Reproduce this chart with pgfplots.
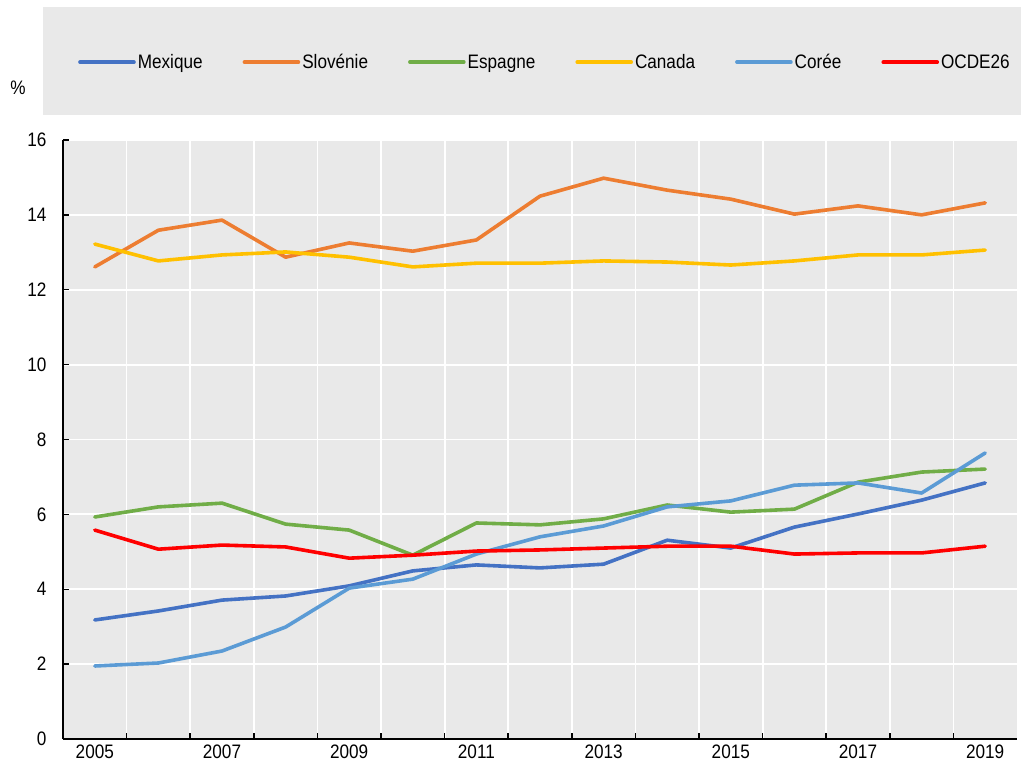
\documentclass[border=0pt]{standalone}
\usepackage{fontspec}
\setmainfont{Liberation Sans}[FakeStretch=0.88]
\usepackage{pgfplots}
\pgfplotsset{compat=1.18}
\definecolor{cMex}{HTML}{4472C4}
\definecolor{cSlo}{HTML}{ED7D31}
\definecolor{cEsp}{HTML}{70AD47}
\definecolor{cCan}{HTML}{FFC000}
\definecolor{cCor}{HTML}{5B9BD5}
\definecolor{cOCDE}{HTML}{FF0000}
\definecolor{bgc}{HTML}{E9E9E9}
\newcommand{\chartfont}{\fontsize{19.5}{23}\selectfont}
\begin{document}
\begin{tikzpicture}[x=1pt,y=1pt]
\path[use as bounding box] (-63,-25) rectangle (958,739);
\fill[bgc] (-20,624) rectangle (958,732);
\node[font=\chartfont] at (-45,651) {\%};
\begin{axis}[
  at={(0,0)}, anchor=south west,
  scale only axis, width=954pt, height=599pt,
  xmin=-0.5, xmax=14.5, ymin=0, ymax=16,
  axis background/.style={fill=bgc},
  axis x line*=bottom, axis y line*=left,
  axis line style={line width=1.4pt, -},
  xtick={0,2,...,14},
  xticklabels={2005,2007,2009,2011,2013,2015,2017,2019},
  minor xtick={0.5,1.5,...,13.5},
  major x tick style={draw=none},
  minor x tick style={black, line width=1.5pt},
  minor tick length=6pt,
  xminorgrids=true,
  minor x grid style={white, line width=1.8pt},
  ytick={0,2,...,16},
  ymajorgrids=true,
  major y grid style={white, line width=1.8pt},
  major y tick style={black, line width=1.5pt},
  major tick length=6pt,
  tick align=inside,
  ticklabel style={font=\chartfont},
  /pgf/number format/assume math mode=true,
  yticklabel style={xshift=-13pt},
  xticklabel style={yshift=-2pt},
  legend style={at={(0.5052,1.13)}, anchor=center, draw=none, fill=none,
    font=\chartfont, nodes={inner xsep=2pt},
    /tikz/every even column/.append style={column sep=38pt}},
  legend columns=6,
  legend image code/.code={\draw[#1] (0pt,0pt) -- (54pt,0pt);},
  every axis plot/.append style={line width=3.6pt, line join=round, line cap=round},
  clip=false,
]
\addplot[cMex] coordinates {(0,3.18)(1,3.42)(2,3.71)(3,3.82)(4,4.09)(5,4.49)(6,4.65)(7,4.57)(8,4.67)(9,5.31)(10,5.10)(11,5.66)(12,6.01)(13,6.38)(14,6.84)};
\addlegendentry{Mexique}
\addplot[cSlo] coordinates {(0,12.61)(1,13.59)(2,13.86)(3,12.87)(4,13.25)(5,13.03)(6,13.33)(7,14.50)(8,14.98)(9,14.66)(10,14.42)(11,14.02)(12,14.24)(13,14.00)(14,14.32)};
\addlegendentry{Slovénie}
\addplot[cEsp] coordinates {(0,5.93)(1,6.20)(2,6.30)(3,5.74)(4,5.58)(5,4.91)(6,5.77)(7,5.72)(8,5.88)(9,6.25)(10,6.06)(11,6.14)(12,6.86)(13,7.13)(14,7.21)};
\addlegendentry{Espagne}
\addplot[cCan] coordinates {(0,13.22)(1,12.77)(2,12.93)(3,13.01)(4,12.87)(5,12.61)(6,12.71)(7,12.71)(8,12.77)(9,12.74)(10,12.66)(11,12.77)(12,12.93)(13,12.93)(14,13.06)};
\addlegendentry{Canada}
\addplot[cCor] coordinates {(0,1.95)(1,2.03)(2,2.35)(3,2.99)(4,4.03)(5,4.27)(6,4.94)(7,5.40)(8,5.69)(9,6.20)(10,6.36)(11,6.78)(12,6.84)(13,6.57)(14,7.64)};
\addlegendentry{Corée}
\addplot[cOCDE] coordinates {(0,5.58)(1,5.07)(2,5.18)(3,5.13)(4,4.83)(5,4.91)(6,5.02)(7,5.05)(8,5.10)(9,5.15)(10,5.15)(11,4.94)(12,4.97)(13,4.97)(14,5.15)};
\addlegendentry{OCDE26}
\end{axis}
\end{tikzpicture}
\end{document}
